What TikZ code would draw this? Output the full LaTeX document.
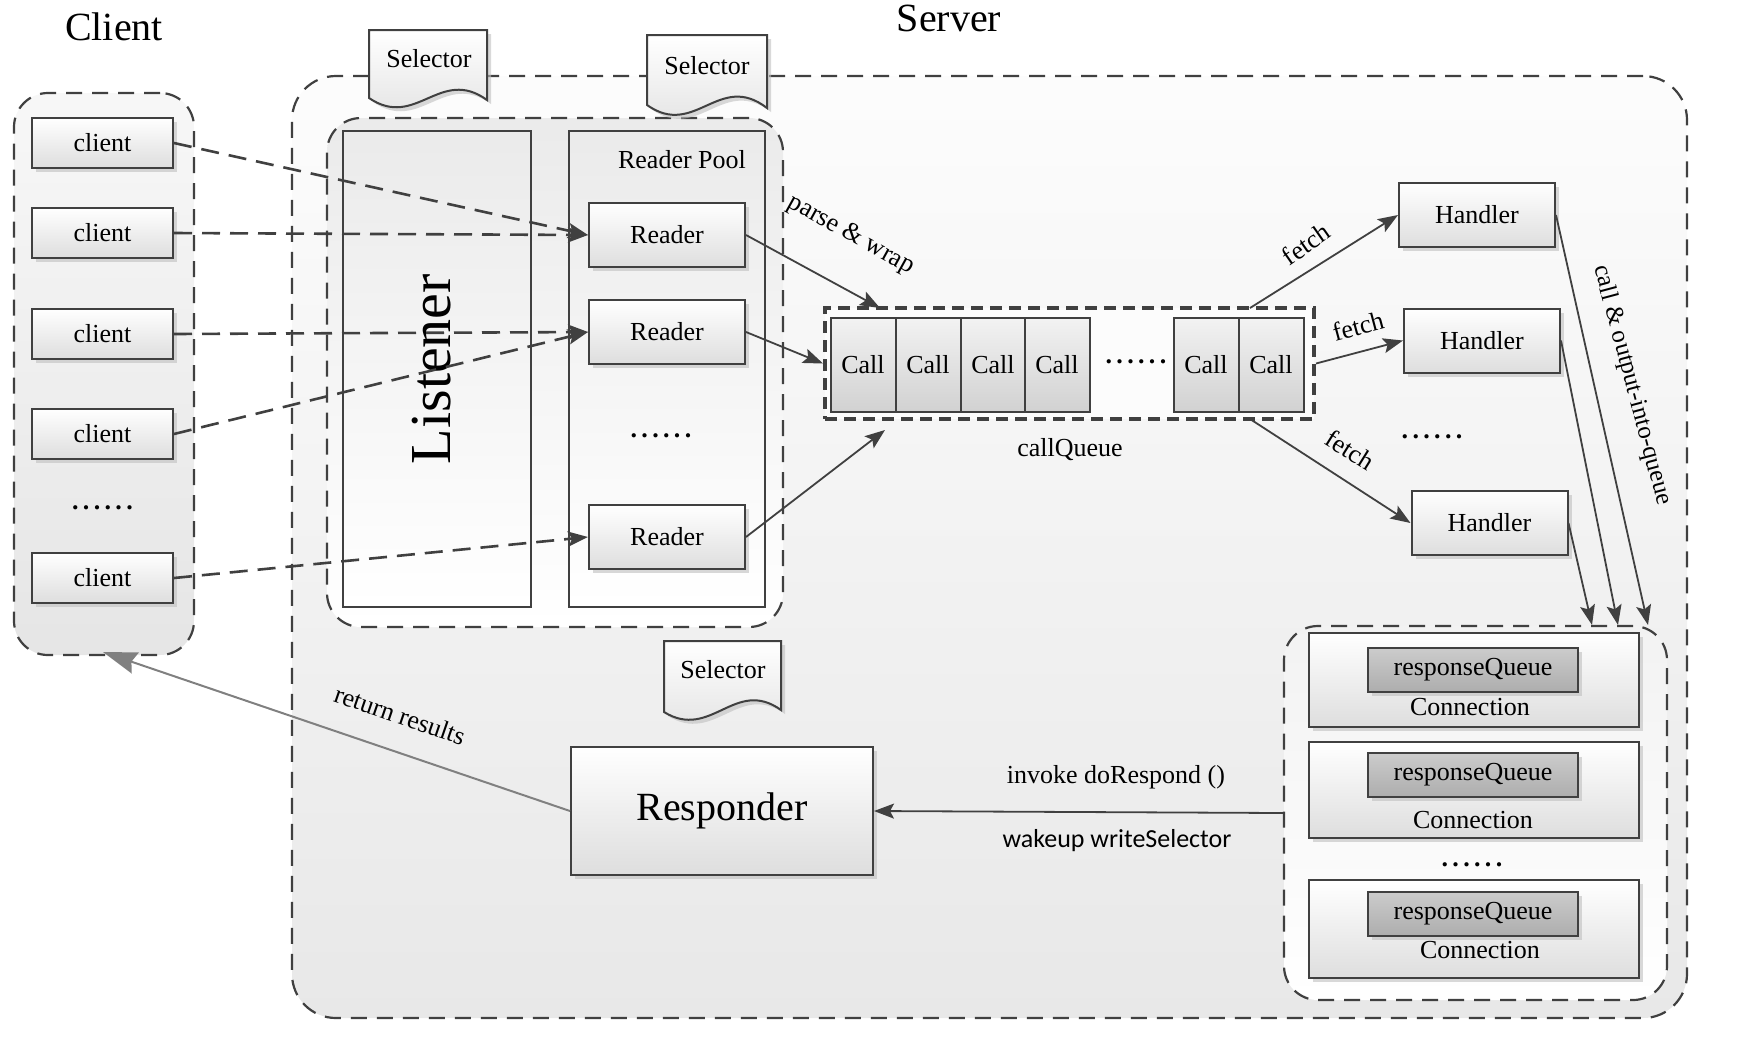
\documentclass[tikz,border=0pt]{standalone}
\usepackage{fontspec}
\setmainfont{Liberation Serif}
\newfontfamily\sanslabel{Carlito}
\usetikzlibrary{arrows.meta,shadows}

\begin{document}
\begin{tikzpicture}[x=0.5pt,y=0.5pt,yscale=-1,xscale=1,
    ink/.style={draw=black!75,line width=1pt},
    box/.style={ink,top color=white,bottom color=black!13,inner sep=0pt,font=\fontsize{13}{15}\selectfont,drop shadow={shadow xshift=2pt,shadow yshift=-2pt,fill=black!25,opacity=0.6}},
    group/.style={draw=black!75,line width=1.1pt,dash pattern=on 8pt off 5pt,rounded corners=17pt,inner sep=0pt},
    lbl/.style={inner sep=0.75pt,font=\fontsize{13}{15}\selectfont},
    dots/.style={inner sep=0.75pt,font=\bfseries\fontsize{13}{15}\selectfont},
    title/.style={inner sep=0.75pt,font=\fontsize{20}{24}\selectfont},
    flow/.style={draw=black!75,line width=0.9pt,-{Stealth[length=10pt,width=7.5pt,inset=2pt]}},
    req/.style={flow,line width=1.3pt,dash pattern=on 9pt off 5pt},
    paper/.style={ink,top color=white,bottom color=black!12,drop shadow={shadow xshift=2pt,shadow yshift=-2pt,fill=black!25,opacity=0.6}},
    cell/.style={ink,top color=black!5,bottom color=black!18,inner sep=0pt,minimum width=32.5pt,minimum height=47pt,font=\fontsize{13}{15}\selectfont},
    rqueue/.style={box,top color=black!20,bottom color=black!32,minimum width=105pt,minimum height=22pt}
]
\useasboundingbox (0,0) rectangle (1740,1040);

%Shape: Rounded Rect [id:clientGroup]
\draw (104,374) node [group,top color=black!3,bottom color=black!10,minimum width=90pt,minimum height=281pt] (clientgrp) {};
%Shape: Rectangle [id:clientBoxes]
\draw (102.5,143) node [box,minimum width=70.5pt,minimum height=25pt] (client1) {client};
\draw (102.5,233) node [box,minimum width=70.5pt,minimum height=25pt] (client2) {client};
\draw (102.5,334) node [box,minimum width=70.5pt,minimum height=25pt] (client3) {client};
\draw (102.5,434) node [box,minimum width=70.5pt,minimum height=25pt] (client4) {client};
\draw (102.5,578) node [box,minimum width=70.5pt,minimum height=25pt] (client5) {client};
% Text Node
\draw (102.5,508) node [dots] (clientdots) {.\,.\,.\,.\,.\,.};

%Shape: Rounded Rect [id:serverGroup]
\draw (989.5,547) node [group,rounded corners=22pt,top color=black!1,bottom color=black!9,minimum width=697.5pt,minimum height=471pt] (server) {};
%Shape: Rounded Rect [id:listenGroup]
\draw (555,372.5) node [group,top color=black!8,bottom color=white,minimum width=228pt,minimum height=254.5pt] (listengrp) {};
%Shape: Rectangle [id:listener]
\draw (437,369) node [ink,top color=black!8,bottom color=white,minimum width=94pt,minimum height=238pt] (listener) {};
\draw (432,369) node [inner sep=0.75pt,rotate=90,font=\fontsize{29}{34}\selectfont] (listenlbl) {Listener};
%Shape: Rectangle [id:readerPool]
\draw (667,369) node [ink,top color=black!8,bottom color=white,minimum width=98pt,minimum height=238pt] (pool) {};
\draw (682,160) node [lbl] (poollbl) {Reader Pool};
%Shape: Rectangle [id:readers]
\draw (667,235) node [box,minimum width=78pt,minimum height=32pt] (reader1) {Reader};
\draw (667,332) node [box,minimum width=78pt,minimum height=32pt] (reader2) {Reader};
\draw (667,537) node [box,minimum width=78pt,minimum height=32pt] (reader3) {Reader};
% Text Node
\draw (661,436) node [dots] (readerdots) {.\,.\,.\,.\,.\,.};

%Shape: Document [id:selectorA]
\draw [paper] (369,30) -- (487,30) -- (487,100) .. controls (440,66) and (416,130) .. (369,98) -- cycle ;
\draw (429,59) node [lbl] (sel1) {Selector};
%Shape: Document [id:selectorB]
\draw [paper] (647,35) -- (767,35) -- (767,108) .. controls (719,71) and (695,139) .. (647,105) -- cycle ;
\draw (707,66) node [lbl] (sel2) {Selector};
%Shape: Document [id:selectorC]
\draw [paper] (664,641) -- (781,641) -- (781,710) .. controls (735,677) and (711,741) .. (664,712) -- cycle ;
\draw (723,670) node [lbl] (sel3) {Selector};

%Shape: Rectangle [id:callQueue]
\draw (1069.5,363.5) node [draw=black!75,line width=2pt,dash pattern=on 6pt off 3.5pt,fill=black!1,minimum width=244.5pt,minimum height=55.5pt] (queue) {};
\draw (863,365) node [cell] (call1) {Call};
\draw (928,365) node [cell] (call2) {Call};
\draw (993,365) node [cell] (call3) {Call};
\draw (1057,365) node [cell] (call4) {Call};
\draw (1206,365) node [cell] (call5) {Call};
\draw (1271,365) node [cell] (call6) {Call};
% Text Node
\draw (1136,362) node [dots] (calldots) {.\,.\,.\,.\,.\,.};
\draw (1070,450) node [lbl] (queuelbl) {callQueue};

%Shape: Rectangle [id:handlers]
\draw (1477,215) node [box,minimum width=78pt,minimum height=32pt] (handler1) {Handler};
\draw (1482,340.5) node [box,minimum width=78pt,minimum height=32pt] (handler2) {Handler};
\draw (1489.5,523) node [box,minimum width=78pt,minimum height=32pt] (handler3) {Handler};
% Text Node
\draw (1432,437) node [dots] (handlerdots) {.\,.\,.\,.\,.\,.};

%Shape: Rectangle [id:responder]
\draw (722,811) node [box,minimum width=151pt,minimum height=64pt,font=\fontsize{20}{24}\selectfont] (resp) {Responder};

%Shape: Rounded Rect [id:connGroup]
\draw (1475.5,813) node [group,top color=black!5,bottom color=white,minimum width=191.5pt,minimum height=187pt] (conngrp) {};
%Shape: Rectangle [id:connections]
\draw (1474,680) node [box,minimum width=165pt,minimum height=47pt] (conn1) {};
\draw (1473,669.5) node [rqueue] (rq1) {responseQueue};
\draw (1470,707) node [lbl] (conn1lbl) {Connection};
\draw (1474,790) node [box,minimum width=165pt,minimum height=48pt] (conn2) {};
\draw (1473,774.5) node [rqueue] (rq2) {responseQueue};
\draw (1473,820) node [lbl] (conn2lbl) {Connection};
% Text Node
\draw (1472,865) node [dots] (conndots) {.\,.\,.\,.\,.\,.};
\draw (1474,929) node [box,minimum width=165pt,minimum height=49pt] (conn3) {};
\draw (1473,913.5) node [rqueue] (rq3) {responseQueue};
\draw (1480,950) node [lbl] (conn3lbl) {Connection};

% free ends
\coordinate (qtopin) at (880,308);
\coordinate (qbotin) at (885,430);
\coordinate (qtopout) at (1250,308);
\coordinate (qbotout) at (1250,419);
\coordinate (hin1) at (1648,625);
\coordinate (hin2) at (1618,625);
\coordinate (hin3) at (1592,625);
\coordinate (clientback) at (103,652);

%Straight Lines [id:clientsToReaders]
\draw [req] (client1.east) -- (reader1.west);
\draw [req] (client2.east) -- (reader1.west);
\draw [req] (client3.east) -- (reader2.west);
\draw [req] (client4.east) -- (reader2.west);
\draw [req] (client5.east) -- (reader3.west);
%Straight Lines [id:readersToQueue]
\draw [flow] (reader1.east) -- (qtopin);
\draw [flow] (reader2.east) -- (queue.west);
\draw [flow] (reader3.east) -- (qbotin);
%Straight Lines [id:queueToHandlers]
\draw [flow] (qtopout) -- (handler1.west);
\draw [flow] (queue.east) -- (handler2.west);
\draw [flow] (qbotout) -- (handler3.west);
%Straight Lines [id:handlersToConn]
\draw [flow] (handler1.east) -- (hin1);
\draw [flow] (handler2.east) -- (hin2);
\draw [flow] (handler3.east) -- (hin3);
%Straight Lines [id:connToResponder]
\draw [flow] (conngrp.west) -- (resp.east);
%Straight Lines [id:responderToClients]
\draw [draw=black!50,line width=1pt,-{Stealth[length=17pt,width=11pt,inset=2pt]}] (resp.west) -- (clientback);

% Text Node
\draw (114,27) node [title] (clienttitle) {Client};
% Text Node
\draw (949,18) node [title] (servertitle) {Server};
% Text Node
\draw (851,235) node [lbl,rotate=-29] (parselbl) {parse \& wrap};
% Text Node
\draw (1306,244) node [lbl,rotate=35] (fetchlbl1) {fetch};
% Text Node
\draw (1358,326) node [lbl,rotate=15] (fetchlbl2) {fetch};
% Text Node
\draw (1350,450) node [lbl,rotate=-32] (fetchlbl3) {fetch};
% Text Node
\draw (1632,385) node [lbl,rotate=-75,font=\fontsize{12.5}{15}\selectfont] (calllbl) {call \& output-into-queue};
% Text Node
\draw (1116,777) node [lbl] (invokelbl) {invoke doRespond ()};
% Text Node
\draw (1117,841) node [lbl,font=\sanslabel\fontsize{13}{15}\selectfont] (wakelbl) {wakeup writeSelector};
% Text Node
\draw (400,715) node [lbl,rotate=-19] (retlbl) {return results};

\end{tikzpicture}
\end{document}
